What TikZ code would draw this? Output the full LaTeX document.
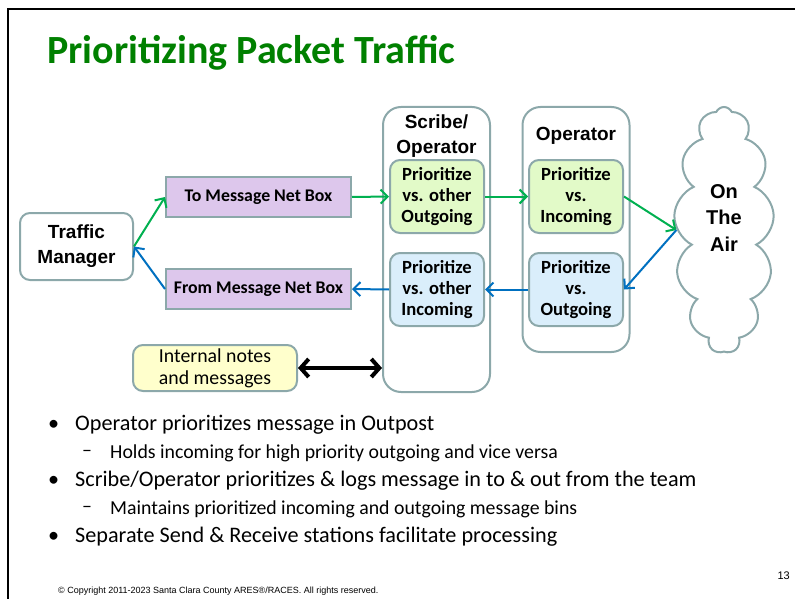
\documentclass[tikz,border=0pt]{standalone}
\usepackage{fontspec}
\setmainfont{Carlito}
\newfontfamily\arialf{Liberation Sans}
\usepackage{tikz}
\usetikzlibrary{arrows.meta,shapes.symbols}
\usetikzlibrary{positioning}
\definecolor{edgegray}{RGB}{140,168,170}
\definecolor{lavender}{RGB}{221,199,236}
\definecolor{outgreen}{RGB}{226,250,200}
\definecolor{inblue}{RGB}{218,238,251}
\definecolor{noteyellow}{RGB}{255,255,204}
\definecolor{arrgreen}{RGB}{0,176,80}
\definecolor{arrblue}{RGB}{0,112,192}
\definecolor{titlegreen}{RGB}{0,128,0}
\tikzstyle{rbox}=[draw=edgegray,line width=2pt,rounded corners=10pt,align=center,inner sep=0pt]
\tikzstyle{tmbox}=[rbox,fill=white,minimum width=113pt,minimum height=67pt,font=\arialf\bfseries\fontsize{19}{25}\selectfont]
\tikzstyle{netbox}=[draw=edgegray,line width=2pt,fill=lavender,minimum width=185pt,minimum height=40pt,font=\bfseries\fontsize{17.8}{20}\selectfont]
\tikzstyle{notebox}=[rbox,fill=noteyellow,minimum width=164pt,minimum height=46pt,font=\fontsize{19.8}{22}\selectfont]
\tikzstyle{col}=[rbox,rounded corners=18pt,minimum width=107pt]
\tikzstyle{coltitle}=[font=\arialf\bfseries\fontsize{19}{25}\selectfont,align=center,inner sep=0pt]
\tikzstyle{outbox}=[rbox,fill=outgreen,minimum width=94pt,minimum height=73pt,font=\bfseries\fontsize{18.6}{21}\selectfont]
\tikzstyle{inbox}=[outbox,fill=inblue]
\tikzstyle{garrow}=[draw=arrgreen,line width=2pt,-{Straight Barb[length=7pt,width=14pt]}]
\tikzstyle{barrow}=[garrow,draw=arrblue]
\tikzstyle{bul}=[anchor=west,inner sep=0pt,font=\fontsize{22.2}{26}\selectfont]
\tikzstyle{subbul}=[anchor=west,inner sep=0pt,font=\fontsize{19.8}{23}\selectfont]
\newcommand{\mainpt}[3]{\node[bul] (#1d) at (48,#2) {\textbullet};\node[bul] (#1) at (75,#2) {#3};}
\newcommand{\subpt}[3]{\node[subbul] (#1d) at (82,#2) {--};\node[subbul] (#1) at (110,#2) {#3};}
\begin{document}
\begin{tikzpicture}[x=1pt,y=-1pt]
	\useasboundingbox (0,0) rectangle (795,599);
	\draw[line width=2pt] (8,600) -- (8,9) -- (796,9);
	\node[anchor=west,inner sep=0pt,text=titlegreen,font=\bfseries\fontsize{40}{46}\selectfont] (title) at (47,53) {Prioritizing Packet Traffic};

	% left side
	\node[tmbox] (tm) at (76.5,246.5) {Traffic\\Manager};
	\node[netbox] (tomsg) at (258.5,197) {To Message Net Box};
	\node[netbox] (frommsg) at (258.5,289) {From Message Net Box};
	\node[notebox] (notes) at (215,368) {Internal notes\\and messages};

	% columns
	\node[col,minimum height=285pt] (scr) at (436.5,249.5) {};
	\node[coltitle,below=9pt of scr.north] (scrt) {Scribe/\\Operator};
	\node[outbox] (scrg) at (437,196.5) {Prioritize\\vs. other\\Outgoing};
	\node[inbox] (scrb) at (437,289.5) {Prioritize\\vs. other\\Incoming};
	\node[col,minimum height=245pt] (op) at (576,229.5) {};
	\node[coltitle,below=21pt of op.north] (opt) {Operator};
	\node[outbox] (opg) at (576,196.5) {Prioritize\\vs.\\Incoming};
	\node[inbox] (opb) at (576,289.5) {Prioritize\\vs.\\Outgoing};

	% cloud
	\node[cloud,draw=edgegray,line width=2pt,cloud puffs=13,cloud puff arc=130,cloud ignores aspect,minimum width=100pt,minimum height=246pt,inner sep=0pt] (air) at (724,230) {};
	\node[align=center,inner sep=0pt,font=\arialf\bfseries\fontsize{20}{26.5}\selectfont] (airt) at ([yshift=12pt]air.center) {On\\The\\Air};

	% arrows
	\draw[garrow] (tm.east) -- (tomsg.west);
	\draw[barrow] (frommsg.west) -- (tm.east);
	\draw[garrow] (tomsg.east) -- (scrg.west);
	\draw[garrow] (scrg.east) -- (opg.west);
	\draw[garrow] (opg.east) -- (air.west);
	\draw[barrow] (air.west) -- (opb.east);
	\draw[barrow] (opb.west) -- (scrb.east);
	\draw[barrow] (scrb.west) -- (frommsg.east);
	\draw[line width=4pt,{Straight Barb[length=8pt,width=18pt]}-{Straight Barb[length=8pt,width=18pt]}] (notes.east) -- (notes.east -| scr.west);

	% bullets
	\mainpt{b1}{425}{Operator prioritizes message in Outpost}
	\subpt{s1}{453}{Holds incoming for high priority outgoing and vice versa}
	\mainpt{b2}{481}{Scribe/Operator prioritizes \& logs message in to \& out from the team}
	\subpt{s2}{509}{Maintains prioritized incoming and outgoing message bins}
	\mainpt{b3}{537}{Separate Send \& Receive stations facilitate processing}

	% footer
	\node[anchor=west,inner sep=0pt,font=\arialf\fontsize{9}{11}\selectfont] (copy) at (58,591) {\textcopyright{} Copyright 2011-2023 Santa Clara County ARES\textregistered/RACES. All rights reserved.};
	\node[anchor=east,inner sep=0pt,font=\arialf\fontsize{11}{13}\selectfont] (pg) at (790,576) {13};
\end{tikzpicture}
\end{document}
